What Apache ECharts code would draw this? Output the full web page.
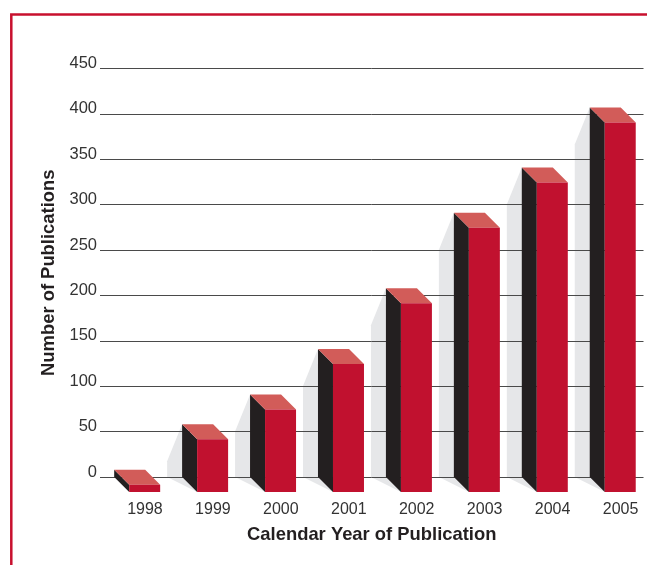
<!DOCTYPE html>
<html>
<head>
<meta charset="utf-8">
<style>html,body{margin:0;padding:0;background:#fff}#c{width:647px;height:565px}</style>
<script src="https://cdn.jsdelivr.net/npm/echarts@6/dist/echarts.min.js"></script>
</head>
<body>
<div id="c"></div>
<script>
const categories = ['1998','1999','2000','2001','2002','2003','2004','2005'];
const publications = [8,58,91,141,208,291,341,407];
const xTitle = 'Calendar Year of Publication';
const yTitle = 'Number of Publications';

const RED = '#c1112f', TOP = '#d25c59', SIDE = '#231f20', SHADOW = '#e6e7e9';
const DEPTH = 15, W = 31, BACK_SHIFT = 19.8, SHADOW_DROP = 37;
const font = '"Liberation Sans", Arial, sans-serif';

function poly(points, fill) {
  return { type: 'polygon', shape: { points }, style: { fill } };
}
function barItem(params, api) {
  const idx = api.value(0);
  const top = api.coord([idx, api.value(1)]);
  const zero = api.coord([idx, 0]);
  const bl = top[0] - BACK_SHIFT, ty = top[1], zy = zero[1], d = DEPTH;
  return { type: 'group', children: [
    poly([[bl, ty], [bl + d, ty + d], [bl + d, zy + d], [bl, zy]], SIDE),
    poly([[bl, ty], [bl + W, ty], [bl + W + d, ty + d], [bl + d, ty + d]], TOP),
    poly([[bl + d, ty + d], [bl + d + W, ty + d], [bl + d + W, zy + d], [bl + d, zy + d]], RED)
  ]};
}
function shadowItem(params, api) {
  const idx = api.value(0);
  const top = api.coord([idx, api.value(1)]);
  const zero = api.coord([idx, 0]);
  const bl = top[0] - BACK_SHIFT, ty = top[1], zy = zero[1], d = DEPTH;
  if (ty + SHADOW_DROP >= zy) return null;
  return poly([[bl - d, ty + SHADOW_DROP], [bl, ty], [bl + d, zy + d], [bl - d, zy]], SHADOW);
}
const seriesData = categories.map((c, i) => [i, publications[i]]);

const chart = echarts.init(document.getElementById('c'), null, { renderer: 'canvas' });
chart.setOption({
  animation: false,
  backgroundColor: '#fff',
  grid: { left: 100, width: 543.5, top: 68.5, height: 408.5 },
  xAxis: {
    type: 'category',
    data: categories,
    axisLine: { show: false },
    axisTick: { show: false },
    axisLabel: { color: '#333', fontFamily: font, fontSize: 16, margin: 25, padding: [0, 0, 0, 22], interval: 0 },
    name: xTitle,
    nameLocation: 'middle',
    nameGap: 49,
    nameTextStyle: { fontFamily: font, fontWeight: 'bold', fontSize: 18.4, color: '#231f20' },
    z: 3
  },
  yAxis: {
    type: 'value',
    min: 0, max: 450, interval: 50,
    axisLine: { show: false },
    axisTick: { show: false },
    axisLabel: { color: '#333', fontFamily: font, fontSize: 16.5, margin: 3, verticalAlign: 'bottom', lineHeight: 10 },
    splitLine: { show: true, lineStyle: { color: '#4a4a4a', width: 1 } },
    name: yTitle,
    nameLocation: 'middle',
    nameGap: 42,
    nameTextStyle: { fontFamily: font, fontWeight: 'bold', fontSize: 18.4, color: '#231f20' },
    z: 3
  },
  graphic: [{
    type: 'rect', silent: true,
    shape: { x: 11.3, y: 14.5, width: 800, height: 800 },
    style: { fill: null, stroke: '#c8102e', lineWidth: 2.5 }
  }],
  series: [
    { type: 'custom', z: 2, clip: false, renderItem: shadowItem, data: seriesData, encode: { x: 0, y: 1 }, silent: true },
    { type: 'custom', z: 5, clip: false, renderItem: barItem, data: seriesData, encode: { x: 0, y: 1 }, silent: true }
  ]
});
</script>
</body>
</html>
